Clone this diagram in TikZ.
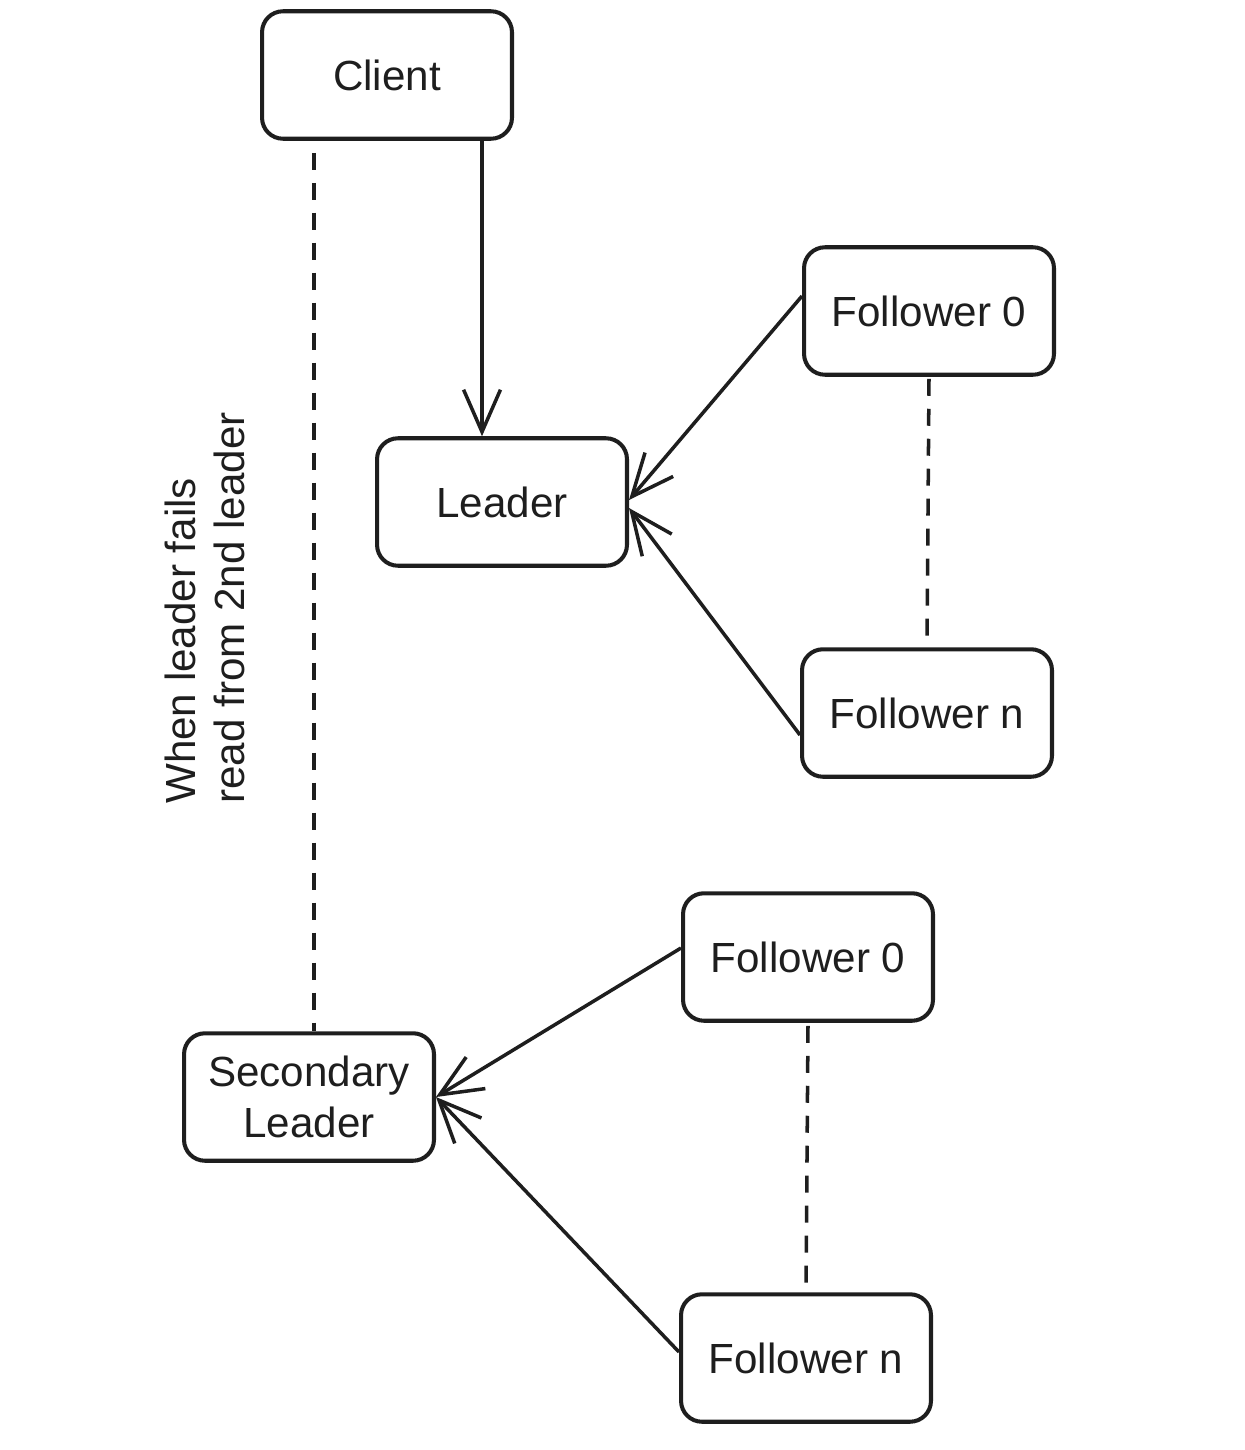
\documentclass[tikz,border=0pt]{standalone}
\usepackage{fontspec}
\setmainfont{Liberation Sans}
\usetikzlibrary{arrows.meta}
\definecolor{ink}{HTML}{1E1E1E}
\tikzset{
  box/.style={draw=ink, line width=2.3pt, rounded corners=0.42cm, minimum width=5.0cm, minimum height=2.55cm, align=center, font=\fontsize{24}{29}\selectfont, text=ink},
  arr/.style={draw=ink, line width=2pt, -{Straight Barb[length=24pt,width=21pt,line width=2pt]}},
  dline/.style={draw=ink, line width=2pt, dash pattern=on 0.34cm off 0.26cm},
  lbl/.style={font=\fontsize{24}{28}\selectfont, text=ink, align=left, rotate=90}
}
\begin{document}
\begin{tikzpicture}[x=0.02cm, y=-0.02cm]
\useasboundingbox (0,0) rectangle (1244,1450);
\node[box] (client) at (387,75) {Client};
\node[box] (leader) at (502,502) {Leader};
\node[box] (f0) at (929,311) {Follower 0};
\node[box] (fn) at (927,713) {Follower n};
\node[box] (f0b) at (808,957) {Follower 0};
\node[box] (fnb) at (806,1358) {Follower n};
\node[box] (sec) at (309,1097) {Secondary\\Leader};
\node[lbl] (note) at (205,608) {When leader fails\\read from 2nd leader};
% connectors
\draw[arr] ([xshift=-0.4cm]leader.north |- client.south) -- ([xshift=-0.4cm]leader.north);
\draw[dline] ([xshift=1.08cm,yshift=-0.24cm]client.south west) -- ([xshift=1.08cm]client.south west |- sec.north);
\draw[arr] ([yshift=0.3cm]f0.west) -- ([yshift=0.04cm]leader.east);
\draw[arr] ([yshift=-0.44cm]fn.west) -- ([yshift=-0.12cm]leader.east);
\draw[dline] ([yshift=-0.04cm]f0.south) -- (fn.north);
\draw[arr] ([yshift=0.18cm]f0b.west) -- (sec.east);
\draw[arr] ([yshift=0.12cm]fnb.west) -- (sec.east);
\draw[dline] ([yshift=-0.06cm]f0b.south) -- (fnb.north);
\end{tikzpicture}
\end{document}
